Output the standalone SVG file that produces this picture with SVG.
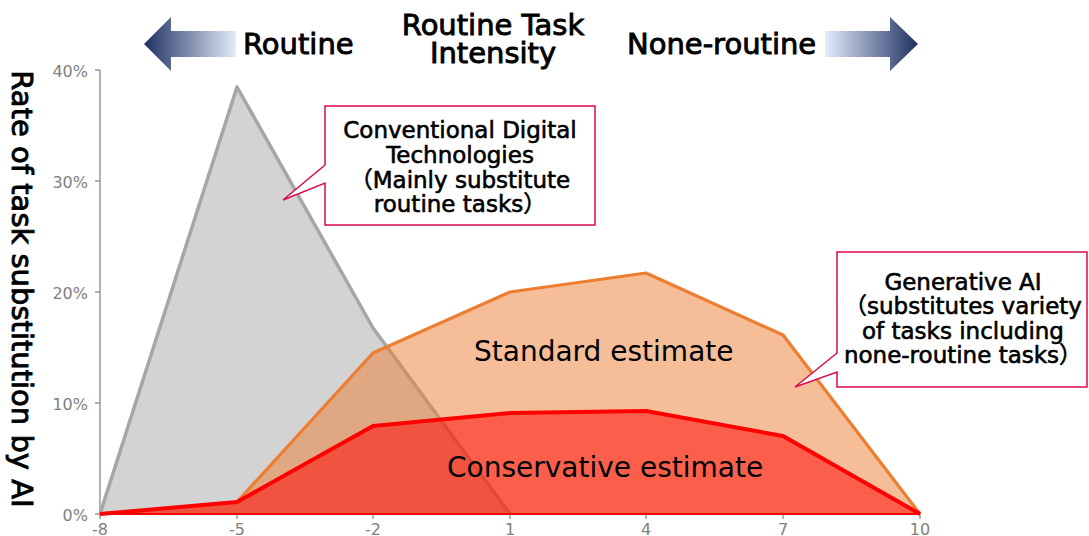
<svg xmlns="http://www.w3.org/2000/svg" width="1089" height="536" viewBox="0 0 1089 536">
<style>
.t{font-family:"DejaVu Sans","Noto Sans CJK JP",sans-serif;fill:#000}
.hd{font-size:29px;stroke:#000;stroke-width:0.9}
.co{font-size:23px;text-anchor:middle;stroke:#000;stroke-width:0.6}
.est{font-size:28px}
.tick{font-family:"DejaVu Sans",sans-serif;font-size:16px;fill:#808080}
.callout{fill:#fff;stroke:#DC0A4A;stroke-width:1.5}
</style>
<defs>
<linearGradient id="gL" x1="0" y1="0" x2="1" y2="0">
<stop offset="0" stop-color="#1F3161"/>
<stop offset="1" stop-color="#E3ECFB"/>
</linearGradient>
<linearGradient id="gR" x1="0" y1="0" x2="1" y2="0">
<stop offset="0" stop-color="#E3ECFB"/>
<stop offset="1" stop-color="#1F3161"/>
</linearGradient>
</defs>

<g id="header">
<polygon points="144,44 171,17 171,31 236,31 236,57 171,57 171,71" fill="url(#gL)"/>
<polygon points="825,31 890,31 890,17 918,44 890,71 890,57 825,57" fill="url(#gR)"/>
<text class="t hd" x="243" y="54">Routine</text>
<text class="t hd" x="493" y="35" text-anchor="middle">Routine Task</text>
<text class="t hd" x="493" y="63" text-anchor="middle">Intensity</text>
<text class="t hd" x="627" y="54">None-routine</text>
</g>

<g id="axes">
<line x1="100" y1="70" x2="100" y2="514" stroke="#7F7F7F" stroke-width="1.2"/>
<g stroke="#7F7F7F" stroke-width="1.2">
<line x1="95" y1="70" x2="100" y2="70"/>
<line x1="95" y1="181" x2="100" y2="181"/>
<line x1="95" y1="292" x2="100" y2="292"/>
<line x1="95" y1="403" x2="100" y2="403"/>
<line x1="95" y1="514" x2="100" y2="514"/>
<line x1="100" y1="514" x2="100" y2="519"/>
<line x1="237" y1="514" x2="237" y2="519"/>
<line x1="373" y1="514" x2="373" y2="519"/>
<line x1="510" y1="514" x2="510" y2="519"/>
<line x1="646" y1="514" x2="646" y2="519"/>
<line x1="783" y1="514" x2="783" y2="519"/>
<line x1="920" y1="514" x2="920" y2="519"/>
</g>
<g class="tick" text-anchor="end">
<text x="88" y="77">40%</text>
<text x="88" y="188">30%</text>
<text x="88" y="299">20%</text>
<text x="88" y="410">10%</text>
<text x="88" y="521">0%</text>
</g>
<g class="tick" text-anchor="middle">
<text x="100" y="535">-8</text>
<text x="237" y="535">-5</text>
<text x="373" y="535">-2</text>
<text x="510" y="535">1</text>
<text x="646" y="535">4</text>
<text x="783" y="535">7</text>
<text x="920" y="535">10</text>
</g>
<text class="t hd" transform="translate(12,289) rotate(90)" text-anchor="middle">Rate of task substitution by AI</text>
</g>

<g id="series-conventional">
<polygon points="100,514 237,87 373,328 510,514" fill="#D3D3D3"/>
<polyline points="100,514 237,87 373,328 510,514" fill="none" stroke="#A6A6A6" stroke-width="3.5" stroke-linejoin="round"/>
</g>

<g id="series-standard">
<polygon points="100,514 237,502 373,353 510,292 646,273 783,335 920,514" fill="#ED7D31" fill-opacity="0.5"/>
<polyline points="237,502 373,353 510,292 646,273 783,335 920,514" fill="none" stroke="#ED7D31" stroke-width="3.2" stroke-linejoin="round"/>
</g>

<g id="series-conservative">
<polygon points="100,514 237,502 373,426 510,413 646,411 783,436 920,514" fill="#FF0000" fill-opacity="0.5"/>
<line x1="100" y1="514" x2="920" y2="514" stroke="#FF0000" stroke-width="2"/>
<polyline points="100,514 237,502 373,426 510,413 646,411 783,436 920,514" fill="none" stroke="#FF0000" stroke-width="4" stroke-linejoin="round"/>
</g>

<g id="label-standard">
<text class="t est" x="474" y="361">Standard estimate</text>
</g>
<g id="label-conservative">
<text class="t est" x="447" y="477">Conservative estimate</text>
</g>

<g id="callout-conventional">
<path class="callout" d="M325,106 H595 V225 H325 V183 L283,200 L325,165 Z"/>
<text class="t co" x="460" y="138">Conventional Digital</text>
<text class="t co" x="460" y="163">Technologies</text>
<text class="t co" x="460" y="188">（Mainly substitute</text>
<text class="t co" x="460" y="212">routine tasks）</text>
</g>

<g id="callout-generative">
<path class="callout" d="M837,252 H1087 V387 H837 V372 L795,387 L837,353 Z"/>
<text class="t co" x="963" y="290">Generative AI</text>
<text class="t co" x="963" y="314">（substitutes variety</text>
<text class="t co" x="963" y="339">of tasks including</text>
<text class="t co" x="963" y="363">none-routine tasks）</text>
</g>
</svg>
